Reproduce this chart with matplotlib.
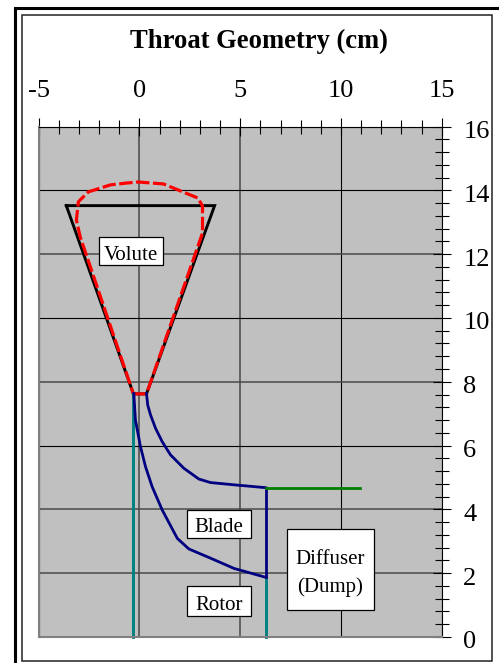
import matplotlib
matplotlib.use('Agg')
import matplotlib.pyplot as plt
from matplotlib.patches import Rectangle
from matplotlib.ticker import MultipleLocator
from matplotlib.transforms import ScaledTranslation

W, H = 499, 663

# throat geometry, cm
volute_x = [-3.63, 3.73, 0.35, -0.30, -3.63]
volute_y = [13.52, 13.52, 7.62, 7.62, 13.52]

profile_x = [-0.30, 0.35, 3.13, 3.13, 2.89, 2.04, 1.19, -0.05, -0.60, -1.44, -2.54, -3.03, -3.13, -2.94, -0.30]
profile_y = [7.62, 7.62, 12.66, 13.51, 13.76, 13.98, 14.20, 14.26, 14.23, 14.17, 13.95, 13.64, 13.07, 12.54, 7.62]

blade_top_x = [0.35, 0.41, 0.55, 0.80, 1.13, 1.54, 2.20, 2.95, 3.53, 4.69, 6.27]
blade_top_y = [7.63, 7.27, 6.96, 6.54, 6.12, 5.71, 5.29, 4.95, 4.84, 4.77, 4.68]

blade_bot_x = [-0.28, -0.20, 0.05, 0.30, 0.63, 1.13, 1.88, 2.45, 3.53, 4.69, 6.27]
blade_bot_y = [7.63, 6.80, 5.97, 5.34, 4.71, 3.98, 3.09, 2.76, 2.47, 2.15, 1.87]

exit_x = [6.27, 6.27]
exit_y = [4.68, 1.87]

rotor_in_x = [-0.30, -0.30]
rotor_in_y = [7.62, 0]
rotor_out_x = [6.27, 6.27]
rotor_out_y = [1.87, 0]

diffuser_x = [6.27, 10.95]
diffuser_y = [4.68, 4.68]

x_ticks = [-5, 0, 5, 10, 15]
y_ticks = [0, 2, 4, 6, 8, 10, 12, 14, 16]
soft_x = [0, 5]
soft_y = [2, 4, 8, 12]

plt.rcParams['font.family'] = ['Liberation Serif', 'DejaVu Serif']
plt.rcParams['axes.unicode_minus'] = False

fig = plt.figure(figsize=(W / 100, H / 100), dpi=100)


def to_fig(px, py):
    return px / W, 1 - py / H


def frame(x0, y0, x1, y1, lw, color):
    fx, fy = to_fig(x0, y1)
    fig.add_artist(Rectangle((fx, fy), (x1 - x0) / W, (y1 - y0) / H, transform=fig.transFigure,
                             facecolor='none', edgecolor=color, linewidth=lw, clip_on=False))


frame(14.5, 7.5, 520, 690, 2.2, 'black')
frame(21.5, 15, 492, 661, 1.1, '#222222')

left, right, top, bottom = 38.7, 441.7, 126.5, 637
ax = fig.add_axes([left / W, 1 - bottom / H, (right - left) / W, (bottom - top) / H])
ax.set_facecolor('#c0c0c0')
ax.set_xlim(-5, 15)
ax.set_ylim(0, 16)
ax.xaxis.tick_top()
ax.yaxis.tick_right()
ax.set_xticks(x_ticks)
ax.set_yticks(y_ticks)
ax.xaxis.set_minor_locator(MultipleLocator(1))
ax.yaxis.set_minor_locator(MultipleLocator(0.4))
ax.tick_params(which='major', direction='inout', length=13, width=0.8, labelsize=19, color='black')
ax.tick_params(which='minor', direction='inout', length=9.5, width=0.8, color='black')
ax.tick_params(axis='x', which='major', pad=11)
ax.tick_params(axis='y', which='major', pad=9)
ax.grid(True, which='major', color='black', linewidth=0.8)
ax.set_axisbelow(True)

# some grid lines fall between pixels in the original and look grey and wider
for v, line in zip(x_ticks, ax.get_xgridlines()):
    if v in soft_x:
        line.set_color('#5a5a5a')
        line.set_linewidth(1.3)
for v, line in zip(y_ticks, ax.get_ygridlines()):
    if v in soft_y:
        line.set_color('#4a4a4a')
        line.set_linewidth(1.1)

# y labels sit a little under their ticks
for t in ax.get_yticklabels():
    t.set_transform(t.get_transform() + ScaledTranslation(0, -0.03, fig.dpi_scale_trans))

ax.spines['left'].set_color('#808080')
ax.spines['left'].set_linewidth(1.5)
ax.spines['bottom'].set_color('#808080')
ax.spines['bottom'].set_linewidth(1.5)
ax.spines['right'].set_color('black')
ax.spines['right'].set_linewidth(0.8)
ax.spines['top'].set_color('black')
ax.spines['top'].set_linewidth(0.8)

ax.plot(volute_x, volute_y, color='black', lw=2.1, solid_joinstyle='miter')
ax.plot(profile_x, profile_y, color='#ff0000', lw=2.3, dashes=(4.2, 1.1))
ax.plot(rotor_in_x, rotor_in_y, color='#008080', lw=2.1, clip_on=False)
ax.plot(rotor_out_x, rotor_out_y, color='#008080', lw=2.1, clip_on=False)
ax.plot(blade_top_x, blade_top_y, color='#000080', lw=2.0)
ax.plot(blade_bot_x, blade_bot_y, color='#000080', lw=2.0)
ax.plot(exit_x, exit_y, color='#000080', lw=2.0)
ax.plot(diffuser_x, diffuser_y, color='#008000', lw=2.0)


def label(x0, y0, x1, y1, text):
    fx, fy = to_fig(x0, y1)
    fig.add_artist(Rectangle((fx, fy), (x1 - x0) / W, (y1 - y0) / H, transform=fig.transFigure,
                             facecolor='white', edgecolor='black', linewidth=0.9, zorder=5))
    cx, cy = to_fig((x0 + x1) / 2, (y0 + y1) / 2 + 4)
    fig.text(cx, cy, text, ha='center', va='center', fontsize=15, zorder=6, linespacing=1.6)


label(99, 237, 163, 265, 'Volute')
label(187, 510, 251, 538, 'Blade')
label(187, 586, 251, 616, 'Rotor')
label(287, 529, 374, 610, 'Diffuser\n(Dump)')

tx, ty = to_fig(258.5, 41)
fig.text(tx, ty, 'Throat Geometry (cm)', ha='center', va='center', fontsize=19.2, fontweight='bold')

fig.savefig('out.png', dpi=100)
